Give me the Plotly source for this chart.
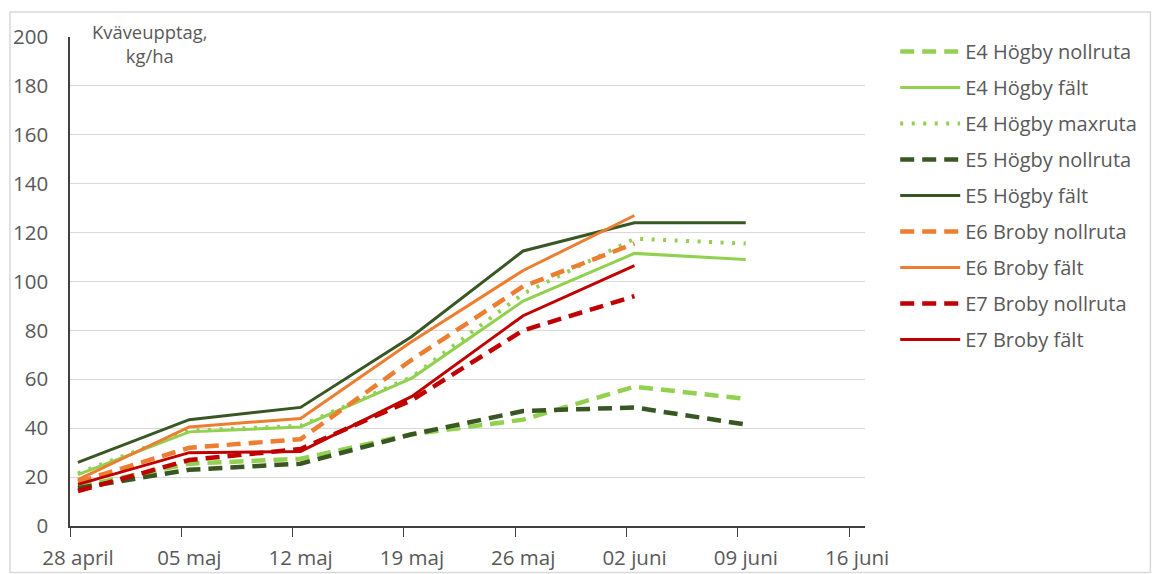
import pandas as pd
import plotly.graph_objects as go

# Sampling dates and nitrogen uptake (kg/ha) per plot
dates = ["2021-04-28", "2021-05-05", "2021-05-12", "2021-05-19",
         "2021-05-26", "2021-06-02", "2021-06-09"]

e4_nollruta = [16.0, 25.5, 27.5, 37.5, 43.5, 57.0, 52.0]
e4_falt = [21.0, 38.5, 40.5, 60.5, 92.0, 111.5, 109.0]
e4_maxruta = [21.5, 39.0, 41.0, 61.0, 95.0, 117.5, 115.5]
e5_nollruta = [15.5, 23.0, 25.5, 37.5, 47.0, 48.5, 41.5]
e5_falt = [26.0, 43.5, 48.5, 77.5, 112.5, 124.0, 124.0]
e6_nollruta = [18.0, 32.0, 35.5, 68.0, 98.0, 115.5]
e6_falt = [19.0, 40.5, 44.0, 75.5, 104.5, 127.0]
e7_nollruta = [14.3, 27.0, 31.5, 51.5, 80.0, 94.0]
e7_falt = [17.0, 30.0, 30.5, 53.0, 86.0, 106.5]

tick_dates = ["2021-04-28", "2021-05-05", "2021-05-12", "2021-05-19",
              "2021-05-26", "2021-06-02", "2021-06-09", "2021-06-16"]
tick_labels = ["28 april", "05 maj", "12 maj", "19 maj",
               "26 maj", "02 juni", "09 juni", "16 juni"]

LIGHT_GREEN = "#92D050"
DARK_GREEN = "#385723"
ORANGE = "#ED7D31"
RED = "#C00000"

# points sit in the middle of their day on the date axis
x_all = pd.to_datetime(dates) + pd.Timedelta(hours=12)

series = [
    ("E4 Högby nollruta", e4_nollruta, LIGHT_GREEN, "dash"),
    ("E4 Högby fält", e4_falt, LIGHT_GREEN, "solid"),
    ("E4 Högby maxruta", e4_maxruta, LIGHT_GREEN, "dot"),
    ("E5 Högby nollruta", e5_nollruta, DARK_GREEN, "dash"),
    ("E5 Högby fält", e5_falt, DARK_GREEN, "solid"),
    ("E6 Broby nollruta", e6_nollruta, ORANGE, "dash"),
    ("E6 Broby fält", e6_falt, ORANGE, "solid"),
    ("E7 Broby nollruta", e7_nollruta, RED, "dash"),
    ("E7 Broby fält", e7_falt, RED, "solid"),
]

dash_styles = {
    "dash": dict(dash="14px,8px", width=4.5),
    "solid": dict(dash="solid", width=3),
    "dot": dict(dash="3px,8.5px", width=4),
}

fig = go.Figure()
for i, (name, values, color, style) in enumerate(series):
    fig.add_trace(go.Scatter(
        x=x_all[:len(values)],
        y=values,
        name=name,
        mode="lines",
        legendgroup=f"g{i}",
        line=dict(color=color, **dash_styles[style]),
        hoverinfo="x+y+name",
    ))

FONT = "Open Sans"
TEXT_COLOR = "#595959"
TICK_SIZE = 20.5

fig.update_layout(
    width=1158,
    height=574,
    margin=dict(l=70, r=293, t=37, b=48, autoexpand=False),
    paper_bgcolor="white",
    plot_bgcolor="white",
    font=dict(family=FONT, size=TICK_SIZE, color=TEXT_COLOR),
    showlegend=True,
    legend=dict(
        x=1.038, xanchor="left",
        y=0.676, yanchor="middle",
        traceorder="grouped",
        tracegroupgap=7,
        itemwidth=60,
        font=dict(family=FONT, size=20, color=TEXT_COLOR),
        bgcolor="rgba(0,0,0,0)",
    ),
    xaxis=dict(
        type="date",
        range=["2021-04-28", "2021-06-17"],
        tickvals=tick_dates,
        ticktext=tick_labels,
        ticks="outside",
        ticklen=9,
        tickwidth=1.3,
        tickcolor="#404040",
        showline=True,
        linecolor="#404040",
        linewidth=1.5,
        showgrid=False,
        zeroline=False,
        automargin=False,
        ticklabelstandoff=4,
        ticklabelshift=8,
        tickfont=dict(family=FONT, size=TICK_SIZE, color=TEXT_COLOR),
    ),
    yaxis=dict(
        range=[0, 200],
        dtick=20,
        showline=True,
        linecolor="#404040",
        linewidth=1.5,
        showgrid=True,
        gridcolor="#D9D9D9",
        gridwidth=1.3,
        zeroline=False,
        automargin=False,
        ticks="",
        ticklabelstandoff=16,
        tickfont=dict(family=FONT, size=TICK_SIZE, color=TEXT_COLOR),
    ),
    annotations=[
        dict(
            text="Kväveupptag,<br>kg/ha",
            xref="paper", yref="paper",
            x=0.0994, y=1.04,
            xanchor="center", yanchor="top",
            showarrow=False,
            align="center",
            font=dict(family=FONT, size=18.4, color=TEXT_COLOR),
        )
    ],
    shapes=[
        dict(
            type="rect", xref="paper", yref="paper",
            x0=-0.0755, x1=1.359, y0=-0.095, y1=1.051,
            line=dict(color="#D9D9D9", width=1.5),
            fillcolor="rgba(0,0,0,0)",
            layer="below",
        )
    ],
)

fig.write_html("out.html")
